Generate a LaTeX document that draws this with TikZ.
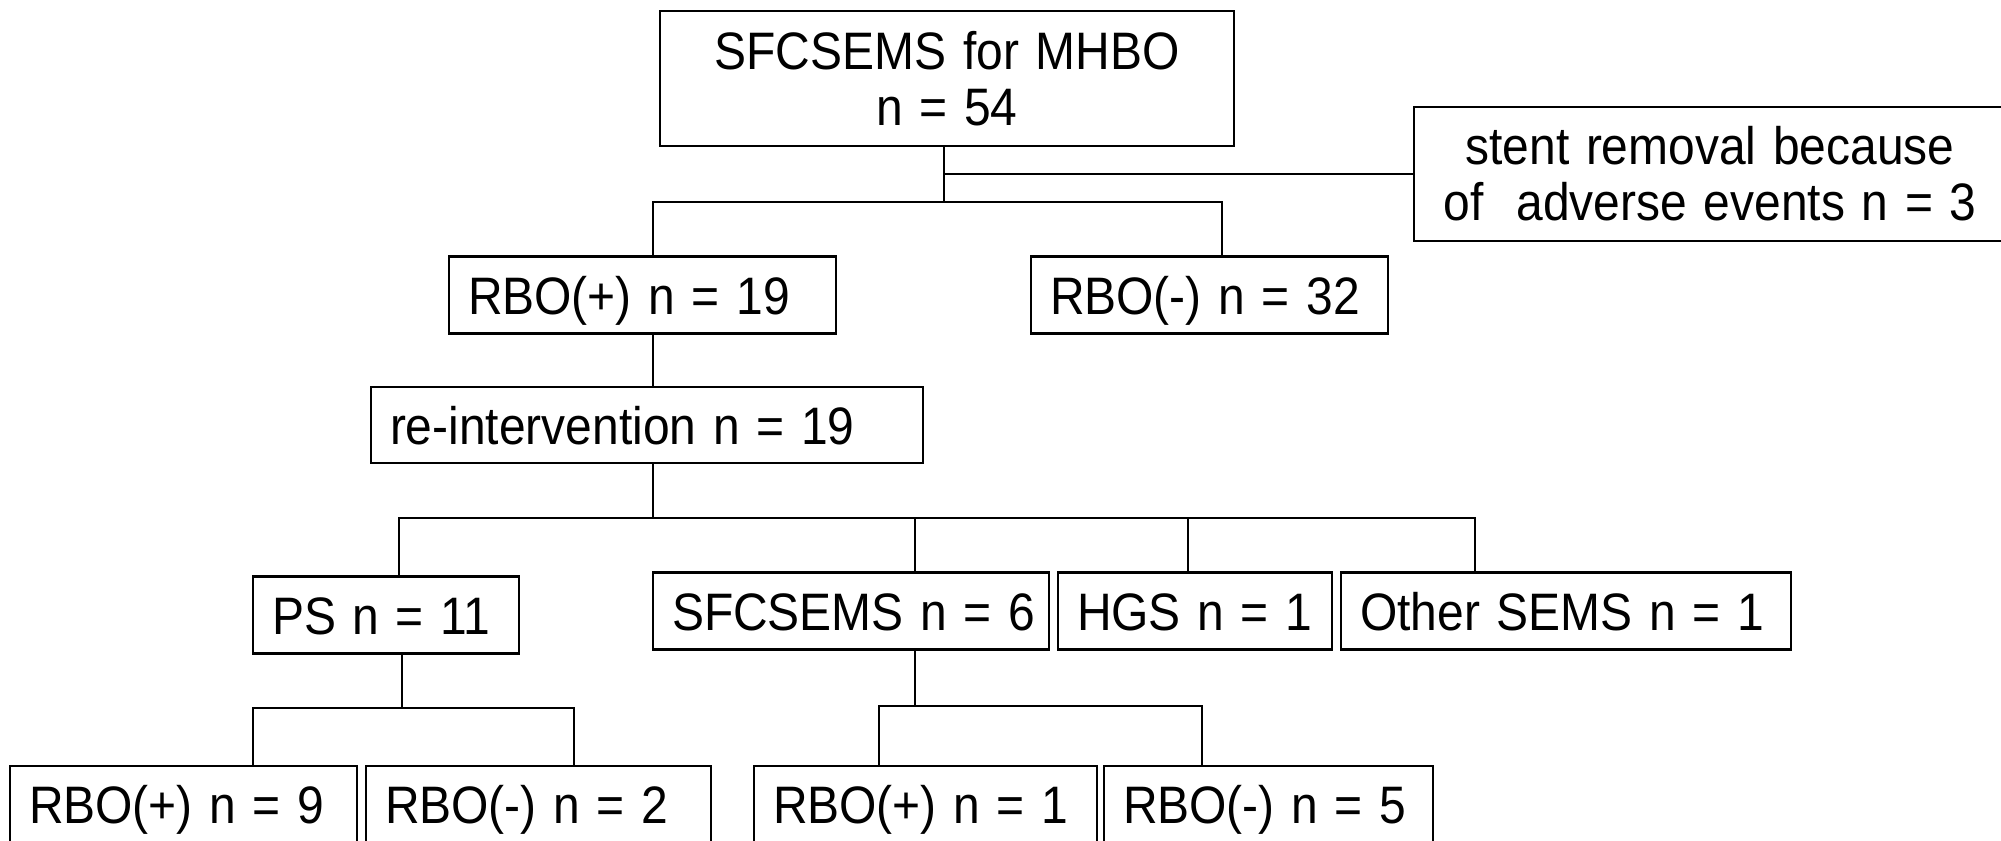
\documentclass[tikz,border=0pt]{standalone}
\usepackage{fontspec}
\setmainfont{Liberation Sans}[FakeStretch=0.91, WordSpace=1.25]
\newcommand{\boxfont}{\fontsize{15}{16}\selectfont}
\newcommand{\celltext}[2]{\makebox[#1][l]{#2}}

\begin{document}
\begin{tikzpicture}[
  cell/.style={draw, line width=0.8pt, inner xsep=0.19cm, inner ysep=0pt, minimum height=0.77cm, text height=0.38cm, text depth=0pt, font=\boxfont},
  headbox/.style={draw, line width=0.8pt, align=center, inner sep=0pt, font=\boxfont},
  link/.style={line width=0.6pt}
]
  \useasboundingbox (0,0) rectangle (20.01,-8.40);
  \clip (0,0) rectangle (20.01,-8.40);

  % ===== Top =====
  \node[headbox, minimum width=5.74cm, minimum height=1.35cm] (s0) at (9.47,-0.785) {SFCSEMS for MHBO\\n = 54};
  \node[headbox, minimum width=5.92cm, minimum height=1.34cm] (r0) at (17.10,-1.74) {stent removal because\\of~~adverse events n = 3};

  % First outcome
  \node[cell] (p1) at (6.425,-2.95) {\celltext{3.49cm}{RBO(+) n = 19}};
  \node[cell] (m1) at (12.095,-2.95) {\celltext{3.19cm}{RBO(-) n = 32}};
  \node[cell, minimum height=0.76cm] (ri) at (6.47,-4.25) {\celltext{5.14cm}{re-intervention n = 19}};

  % Re-intervention types
  \node[cell] (ps) at (3.86,-6.15) {\celltext{2.28cm}{PS n = 11}};
  \node[cell] (sf) at (8.51,-6.11) {\celltext{3.58cm}{SFCSEMS n = 6}};
  \node[cell] (hg) at (11.95,-6.11) {\celltext{2.36cm}{HGS n = 1}};
  \node[cell] (ot) at (15.66,-6.11) {\celltext{4.12cm}{Other SEMS n = 1}};

  % Second outcome
  \node[cell] (b1) at (1.835,-8.045) {\celltext{3.09cm}{RBO(+) n = 9}};
  \node[cell] (b2) at (5.385,-8.045) {\celltext{3.07cm}{RBO(-) n = 2}};
  \node[cell] (b3) at (9.255,-8.045) {\celltext{3.05cm}{RBO(+) n = 1}};
  \node[cell] (b4) at (12.685,-8.045) {\celltext{2.91cm}{RBO(-) n = 5}};

  % ===== Connectors =====
  \coordinate (h1) at (9.44,-2.02);
  \coordinate (h1a) at (6.53,-2.02);
  \coordinate (h1b) at (12.22,-2.02);
  \draw[link] (s0.south -| h1) -- (h1);
  \draw[link] (r0.west -| h1) -- (r0.west);
  \draw[link] (p1.north -| h1a) |- (h1b) -- (m1.north -| h1b);
  \draw[link] (p1.south -| h1a) -- (ri.north -| h1a);

  \coordinate (h2) at (6.53,-5.18);
  \coordinate (h2a) at (3.99,-5.18);
  \coordinate (h2b) at (9.15,-5.18);
  \coordinate (h2c) at (11.88,-5.18);
  \coordinate (h2d) at (14.75,-5.18);
  \draw[link] (ri.south -| h2) -- (h2);
  \draw[link] (ps.north -| h2a) |- (h2d) -- (ot.north -| h2d);
  \draw[link] (h2b) -- (sf.north -| h2b);
  \draw[link] (h2c) -- (hg.north -| h2c);

  \coordinate (h3) at (4.02,-7.08);
  \coordinate (h3a) at (2.53,-7.08);
  \coordinate (h3b) at (5.74,-7.08);
  \draw[link] (ps.south -| h3) -- (h3);
  \draw[link] (b1.north -| h3a) |- (h3b) -- (b2.north -| h3b);

  \coordinate (h4) at (9.15,-7.06);
  \coordinate (h4a) at (8.79,-7.06);
  \coordinate (h4b) at (12.02,-7.06);
  \draw[link] (sf.south -| h4) -- (h4);
  \draw[link] (b3.north -| h4a) |- (h4b) -- (b4.north -| h4b);
\end{tikzpicture}
\end{document}
